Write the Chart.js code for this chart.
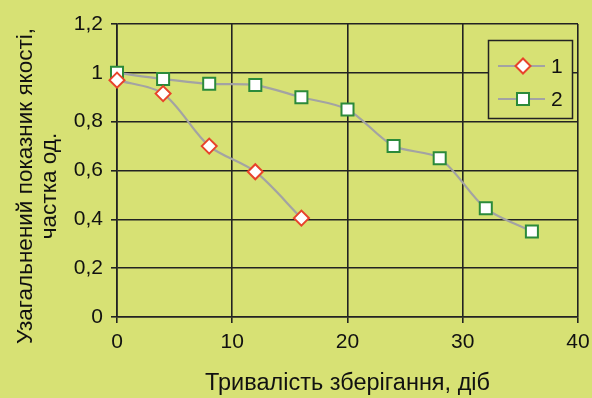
<!DOCTYPE html>
<html>
<head>
<meta charset="utf-8">
<script src="https://cdn.jsdelivr.net/npm/chart.js@4/dist/chart.umd.min.js"></script>
<style>
  html, body { margin: 0; padding: 0; background: #d7e174; }
  #wrap { width: 592px; height: 398px; }
</style>
</head>
<body>
<div id="wrap"><canvas id="c" width="592" height="398"></canvas></div>
<script>
// Storage duration (days) and quality index for two samples
const days1 = [0, 4, 8, 12, 16];
const quality1 = [0.97, 0.915, 0.70, 0.595, 0.405];
const days2 = [0, 4, 8, 12, 16, 20, 24, 28, 32, 36];
const quality2 = [1.0, 0.975, 0.955, 0.95, 0.90, 0.85, 0.70, 0.65, 0.445, 0.35];
const seriesNames = ['1', '2'];
const xTitle = 'Тривалість зберігання, діб';
const yTitle = ['Узагальнений показник якості,', 'частка од.'];

const BG = '#d7e174';
const GRID = '#222222';
const TEXT = '#111111';
const LINE = '#a3a3a3';
const FONT = 'Liberation Sans, Arial, sans-serif';

const toPoints = (xs, ys) => xs.map((x, i) => ({ x: x, y: ys[i] }));

const series = [
  { name: seriesNames[0], data: toPoints(days1, quality1), style: 'rectRot', color: '#e8432b', radius: 7.5 },
  { name: seriesNames[1], data: toPoints(days2, quality2), style: 'rect', color: '#2b8a3a', radius: 8.5 }
];

// Boxed legend inside the plot area, top right
const boxLegend = {
  id: 'boxLegend',
  afterDraw(chart) {
    const ctx = chart.ctx;
    const x0 = 488.5, y0 = 40.5, w = 84, h = 78;
    ctx.save();
    ctx.fillStyle = BG;
    ctx.fillRect(x0, y0, w, h);
    ctx.strokeStyle = GRID;
    ctx.lineWidth = 1.5;
    ctx.strokeRect(x0, y0, w, h);
    const rows = [66, 99];
    chart.data.datasets.forEach((ds, i) => {
      const y = rows[i];
      ctx.strokeStyle = LINE;
      ctx.lineWidth = 2.2;
      ctx.beginPath();
      ctx.moveTo(498, y);
      ctx.lineTo(545, y);
      ctx.stroke();
      ctx.fillStyle = '#ffffff';
      ctx.strokeStyle = ds.pointBorderColor;
      ctx.lineWidth = ds.pointBorderWidth;
      Chart.helpers.drawPoint(ctx, {
        pointStyle: ds.pointStyle,
        radius: ds.pointRadius,
        rotation: 0,
        borderWidth: ds.pointBorderWidth
      }, 523, y);
      ctx.fillStyle = TEXT;
      ctx.font = '21px ' + FONT;
      ctx.textAlign = 'left';
      ctx.textBaseline = 'middle';
      ctx.fillText(ds.label, 551, y + 1);
    });
    ctx.restore();
  }
};

// Canvas background and the two-line vertical axis title
const frame = {
  id: 'frame',
  beforeDraw(chart) {
    const ctx = chart.ctx;
    ctx.save();
    ctx.fillStyle = BG;
    ctx.fillRect(0, 0, chart.width, chart.height);
    ctx.restore();
  },
  afterDraw(chart) {
    const ctx = chart.ctx;
    ctx.save();
    ctx.translate(0, 186);
    ctx.rotate(-Math.PI / 2);
    ctx.fillStyle = TEXT;
    ctx.font = '22.5px ' + FONT;
    ctx.textAlign = 'center';
    ctx.textBaseline = 'middle';
    ctx.fillText(yTitle[0], 0, 26);
    ctx.fillText(yTitle[1], 0, 50);
    ctx.restore();
  }
};

new Chart(document.getElementById('c'), {
  type: 'line',
  data: {
    datasets: series.map(s => ({
      label: s.name,
      data: s.data,
      borderColor: LINE,
      borderWidth: 2.2,
      tension: 0.3,
      clip: false,
      pointStyle: s.style,
      pointRadius: s.radius,
      pointHoverRadius: s.radius,
      pointBorderColor: s.color,
      pointBackgroundColor: '#ffffff',
      pointBorderWidth: 2,
      fill: false
    }))
  },
  options: {
    responsive: false,
    animation: false,
    events: [],
    layout: { padding: { left: 0, right: 14, top: 24, bottom: 0 } },
    plugins: {
      legend: { display: false },
      tooltip: { enabled: false }
    },
    scales: {
      x: {
        type: 'linear',
        min: 0,
        max: 40,
        afterFit(scale) {
          scale.height = 81;
          scale.paddingRight = 0;
          scale.paddingLeft = 0;
        },
        ticks: {
          stepSize: 10,
          color: TEXT,
          font: { family: FONT, size: 21 },
          padding: 7
        },
        grid: { color: GRID, lineWidth: 1.6, tickLength: 6 },
        border: { color: GRID, width: 1.6 },
        title: {
          display: true,
          text: xTitle,
          color: TEXT,
          font: { family: FONT, size: 23.5 },
          padding: { top: 10, bottom: 0 }
        }
      },
      y: {
        min: 0,
        max: 1.2,
        ticks: {
          stepSize: 0.2,
          color: TEXT,
          font: { family: FONT, size: 21 },
          padding: 8,
          callback: v => String(Math.round(v * 10) / 10).replace('.', ',')
        },
        grid: { color: GRID, lineWidth: 1.6, tickLength: 6 },
        border: { color: GRID, width: 1.6 },
        afterFit(scale) {
          scale.width = 117;
          scale.paddingTop = 0;
          scale.paddingBottom = 0;
        }
      }
    }
  },
  plugins: [frame, boxLegend]
});
</script>
</body>
</html>
